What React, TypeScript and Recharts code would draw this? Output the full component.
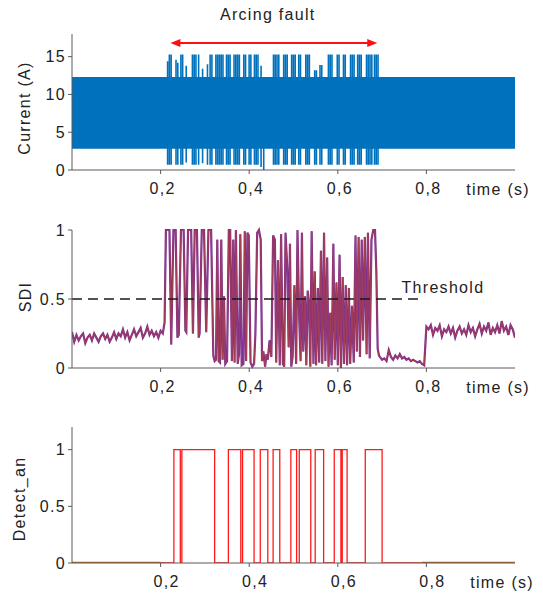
import React from 'react';
import { LineChart, Line, AreaChart, Area, XAxis, YAxis, ReferenceLine } from 'recharts';

// axis ticks
const timeTicks = [0.2, 0.4, 0.6, 0.8];
const currentTicks = [0, 5, 10, 15];
const unitTicks = [0, 0.5, 1];

// current waveform envelope (A)
const bandLow = 2.8;
const bandHigh = 12.3;
const spikeTimes = [
  0.214, 0.218, 0.222, 0.233, 0.237, 0.244, 0.248, 0.256, 0.270, 0.274,
  0.278, 0.284, 0.293, 0.304, 0.310, 0.314, 0.323, 0.327, 0.331, 0.335,
  0.339, 0.347, 0.351, 0.355, 0.364, 0.368, 0.372, 0.376, 0.386, 0.390,
  0.398, 0.402, 0.410, 0.414, 0.418, 0.425, 0.431, 0.453, 0.457, 0.461,
  0.465, 0.476, 0.480, 0.484, 0.494, 0.498, 0.502, 0.510, 0.514, 0.526,
  0.530, 0.534, 0.546, 0.550, 0.558, 0.562, 0.577, 0.581, 0.585, 0.597,
  0.601, 0.611, 0.615, 0.627, 0.631, 0.635, 0.643, 0.647, 0.651, 0.663,
  0.667, 0.671, 0.675, 0.681, 0.685, 0.689,
];
const spikeHigh = [
  14.4, 15.3, 15.3, 14.6, 14.2, 15.3, 15.3, 13.8, 15.3, 15.3,
  15.3, 15.3, 13.4, 14.0, 15.3, 15.3, 15.3, 15.3, 15.3, 15.3,
  15.3, 15.3, 15.3, 15.3, 15.3, 15.3, 15.3, 15.3, 15.3, 15.3,
  15.3, 15.3, 15.3, 15.3, 15.3, 13.8, 12.3, 15.3, 15.3, 15.3,
  15.3, 15.3, 15.3, 15.3, 15.3, 15.3, 15.3, 15.3, 15.3, 15.3,
  15.3, 15.3, 13.2, 13.2, 13.9, 13.9, 15.3, 15.3, 15.3, 15.3,
  15.3, 15.3, 15.3, 15.3, 15.3, 15.3, 15.3, 15.3, 15.3, 15.3,
  15.3, 15.3, 15.3, 15.3, 15.3, 15.3,
];
const spikeLow = [
  0.7, 0.7, 0.7, 0.7, 0.7, 0.7, 0.7, 1.0, 0.7, 0.7,
  0.7, 0.7, 0.9, 0.7, 0.7, 0.7, 0.7, 0.7, 0.7, 0.7,
  0.7, 0.7, 0.7, 0.7, 0.7, 0.7, 0.7, 0.7, 0.7, 0.7,
  0.7, 0.7, 0.7, 0.7, 0.7, 0.4, 0.0, 0.7, 0.7, 0.7,
  0.7, 0.7, 0.7, 0.7, 0.7, 0.7, 0.7, 0.7, 0.7, 0.7,
  0.7, 0.7, 0.7, 0.7, 0.7, 0.7, 0.7, 0.7, 0.7, 0.7,
  0.7, 0.7, 0.7, 0.7, 0.7, 0.7, 0.7, 0.7, 0.7, 0.7,
  0.7, 0.7, 0.7, 0.7, 0.7, 0.7,
];
const faultSpan = [0.222, 0.689];
const faultArrowLevel = 16.8;

// SDI, sampled every 5 ms outside the fault, read point by point inside it
const sdiPre = [
  0.26, 0.19, 0.24, 0.20, 0.23, 0.25, 0.18, 0.22, 0.24, 0.20,
  0.25, 0.22, 0.19, 0.23, 0.25, 0.21, 0.24, 0.19, 0.22, 0.26,
  0.21, 0.25, 0.23, 0.28, 0.22, 0.26, 0.20, 0.24, 0.28, 0.23,
  0.26, 0.29, 0.22, 0.25, 0.30, 0.24, 0.27, 0.23, 0.26, 0.22,
  0.27, 0.25,
];
const sdiFault = [
  [0.209, 0.33], [0.212, 1.0], [0.220, 1.0], [0.224, 0.17], [0.229, 1.0], [0.234, 1.0],
  [0.238, 0.22], [0.241, 0.24], [0.246, 1.0], [0.252, 1.0], [0.256, 0.27], [0.258, 0.26],
  [0.262, 1.0], [0.269, 1.0], [0.273, 0.25], [0.277, 1.0], [0.282, 1.0], [0.286, 0.22],
  [0.288, 0.25], [0.293, 1.0], [0.298, 1.0], [0.303, 0.26], [0.308, 1.0], [0.314, 1.0],
  [0.319, 0.09], [0.322, 0.05], [0.325, 0.06], [0.328, 0.93], [0.331, 0.05], [0.334, 0.04],
  [0.337, 0.93], [0.340, 0.06], [0.343, 0.52], [0.346, 0.03], [0.350, 0.05], [0.354, 1.0],
  [0.357, 1.0], [0.361, 0.05], [0.364, 0.93], [0.367, 0.04], [0.370, 1.0], [0.374, 0.03],
  [0.377, 0.10], [0.380, 0.97], [0.383, 0.02], [0.387, 0.03], [0.390, 0.99], [0.393, 0.05],
  [0.396, 0.98], [0.399, 0.96], [0.403, 0.04], [0.407, 0.01], [0.411, 0.03], [0.414, 0.25],
  [0.418, 0.98], [0.422, 1.0], [0.426, 0.93], [0.429, 0.05], [0.432, 0.12], [0.436, 0.01],
  [0.439, 0.10], [0.442, 0.06], [0.446, 0.20], [0.450, 0.08], [0.454, 0.96], [0.458, 0.93],
  [0.461, 0.04], [0.465, 0.78], [0.469, 0.02], [0.472, 0.97], [0.476, 0.03], [0.479, 0.01],
  [0.482, 0.98], [0.486, 0.72], [0.489, 0.15], [0.492, 0.90], [0.495, 0.01], [0.498, 0.08],
  [0.502, 0.60], [0.506, 0.03], [0.509, 1.0], [0.513, 0.35], [0.516, 0.05], [0.519, 0.98],
  [0.522, 0.12], [0.526, 0.52], [0.529, 0.02], [0.532, 0.56], [0.535, 0.48], [0.538, 0.01],
  [0.541, 0.99], [0.545, 0.03], [0.548, 0.70], [0.551, 0.02], [0.555, 0.58], [0.558, 0.04],
  [0.562, 0.85], [0.565, 0.03], [0.569, 0.98], [0.572, 0.05], [0.576, 0.80], [0.579, 0.01],
  [0.583, 0.40], [0.586, 0.02], [0.590, 0.90], [0.593, 0.06], [0.597, 0.62], [0.600, 0.02],
  [0.604, 0.82], [0.607, 0.0], [0.611, 0.66], [0.614, 0.03], [0.618, 0.60], [0.621, 0.02],
  [0.625, 0.58], [0.628, 0.03], [0.632, 0.45], [0.636, 0.04], [0.640, 0.96], [0.643, 0.12],
  [0.647, 0.95], [0.650, 0.08], [0.654, 0.93], [0.657, 0.20], [0.661, 0.95], [0.665, 0.10],
  [0.668, 0.98], [0.672, 0.07], [0.676, 0.93], [0.680, 1.0], [0.684, 1.0], [0.687, 0.70],
  [0.690, 0.14], [0.693, 0.09],
];
const sdiDecay = [
  0.08, 0.06, 0.07, 0.05, 0.13, 0.08, 0.06, 0.09, 0.07, 0.10,
  0.07, 0.08, 0.06, 0.07, 0.05, 0.06, 0.05, 0.04, 0.05, 0.03,
  0.02,
];
const sdiPost = [
  0.30, 0.28, 0.31, 0.24, 0.29, 0.27, 0.31, 0.23, 0.28, 0.26,
  0.30, 0.25, 0.29, 0.22, 0.27, 0.30, 0.25, 0.28, 0.24, 0.31,
  0.26, 0.29, 0.23, 0.28, 0.32, 0.25, 0.30, 0.27, 0.33, 0.24,
  0.29, 0.26, 0.31, 0.25, 0.34, 0.27, 0.30, 0.24, 0.31, 0.28,
  0.22,
];
const threshold = 0.5;
const thresholdEnd = 0.789;

// detection output (step changes)
const detectTimes = [
  0.200, 0.230, 0.2445, 0.248, 0.322, 0.353, 0.381, 0.385, 0.411, 0.425,
  0.442, 0.454, 0.469, 0.494, 0.507, 0.513, 0.539, 0.549, 0.568, 0.592,
  0.607, 0.610, 0.621, 0.662, 0.700, 0.790,
];
const detectValues = [
  0, 1, 0, 1, 0, 1, 0, 1, 0, 1,
  0, 1, 0, 1, 0, 1, 0, 1, 0, 1,
  0, 1, 0, 1, 0, 0,
];
const idleTimes = [0, 0.2, 0.5, 0.79, 1];
const idleValues = [0, 0, null, 0, 0];

const sampleStep = 0.005;
const spikeWidth = 0.0036;

const sampled = (start: number, values: number[]) =>
  values.map((v, i) => ({ t: +(start + i * sampleStep).toFixed(4), v }));

const currentData: { t: number; r: number[] }[] = [{ t: 0, r: [bandLow, bandHigh] }];
spikeTimes.forEach((t, i) => {
  currentData.push({ t, r: [spikeLow[i], spikeHigh[i]] });
  currentData.push({ t: t + spikeWidth, r: [bandLow, bandHigh] });
});
currentData.push({ t: 1, r: [bandLow, bandHigh] });

const sdiData = [
  ...sampled(0, sdiPre),
  ...sdiFault.map(([t, v]) => ({ t, v })),
  ...sampled(0.695, sdiDecay),
  ...sampled(0.8, sdiPost),
];

const detectData = detectTimes.map((t, i) => ({ t, v: detectValues[i] }));
const idleData = idleTimes.map((t, i) => ({ t, v: idleValues[i] }));

const AXIS = '#5a5a5a';
const INK = '#222';
const FONT = '"Liberation Sans", Arial, sans-serif';
const W = 543;

const fmtTime = (v: number) => v.toFixed(1).replace('.', ',');
const fmtUnit = (v: number) => (v === 0.5 ? '0.5' : String(v));

const yTitle = (text: string, x: number, shift: number) => (props: any) => {
  const { viewBox } = props;
  const cy = viewBox.y + viewBox.height / 2 + shift;
  return (
    <text x={x} y={cy} transform={`rotate(-90 ${x} ${cy})`} textAnchor="middle" fill={INK} fontSize={16}>
      {text}
    </text>
  );
};

const timeTitle = (shift: number) => (props: any) => {
  const { viewBox } = props;
  return (
    <text x={viewBox.x + viewBox.width + 15 + shift} y={viewBox.y + 24.7} textAnchor="end" fill={INK} fontSize={16}>
      time (s)
    </text>
  );
};

const FaultArrow = (props: any) => {
  const { x1, y1, x2 } = props;
  return (
    <g>
      <line x1={x1 + 8} y1={y1} x2={x2 - 8} y2={y1} stroke="#ff1010" strokeWidth={2} />
      <polygon points={`${x1},${y1} ${x1 + 10},${y1 - 4} ${x1 + 10},${y1 + 4}`} fill="#ff1010" />
      <polygon points={`${x2},${y1} ${x2 - 10},${y1 - 4} ${x2 - 10},${y1 + 4}`} fill="#ff1010" />
      <text x={(x1 + x2) / 2 - 6} y={y1 - 23.3} textAnchor="middle" fill={INK} fontSize={16}>
        Arcing  fault
      </text>
    </g>
  );
};

const ThresholdLine = (props: any) => {
  const { x1, y1, x2 } = props;
  return (
    <g>
      <line x1={x1} y1={y1} x2={x2} y2={y1} stroke="#1a1a1a" strokeWidth={1.7} strokeDasharray="10 6" />
      <text x={x2 - 20} y={y1 - 6.5} fill={INK} fontSize={16}>
        Threshold
      </text>
    </g>
  );
};

const frame = (labelShift: number, titleShift: number) => [
  <XAxis
    key="xb"
    dataKey="t"
    type="number"
    domain={[0, 1]}
    ticks={timeTicks}
    tickFormatter={fmtTime}
    height={30}
    tickSize={4}
    tickMargin={9}
    stroke={AXIS}
    tick={{ fill: INK, fontSize: 16, dx: labelShift }}
    label={timeTitle(titleShift)}
    allowDataOverflow
  />,
  <XAxis
    key="xt"
    xAxisId="top"
    dataKey="t"
    type="number"
    orientation="top"
    domain={[0, 1]}
    ticks={timeTicks}
    tickFormatter={() => ''}
    height={0}
    tickSize={-4}
    stroke={AXIS}
  />,
  <YAxis key="yr" yAxisId="right" orientation="right" width={0} tick={false} stroke={AXIS} />,
];

export default function App() {
  return (
    <div
      style={{
        position: 'absolute',
        left: 0,
        top: 0,
        width: W,
        height: 595,
        background: '#fff',
        fontFamily: FONT,
        letterSpacing: '1.3px',
      }}
    >
      <div style={{ position: 'absolute', left: 0, top: 0 }}>
        <AreaChart width={W} height={200} data={currentData} margin={{ top: 34, right: 28, bottom: 0, left: 0 }}>
          {frame(2, 0)}
          <YAxis
            domain={[0, 18]}
            ticks={currentTicks}
            width={72}
            tickSize={4}
            tickMargin={2}
            stroke={AXIS}
            tick={{ fill: INK, fontSize: 16 }}
            label={yTitle('Current (A)', 30, 6)}
          />
          <Area
            type="stepAfter"
            dataKey="r"
            stroke="none"
            fill="#0072BD"
            fillOpacity={1}
            isAnimationActive={false}
          />
          <ReferenceLine
            segment={[
              { x: faultSpan[0], y: faultArrowLevel },
              { x: faultSpan[1], y: faultArrowLevel },
            ]}
            shape={FaultArrow}
          />
        </AreaChart>
      </div>

      <div style={{ position: 'absolute', left: 0, top: 200 }}>
        <LineChart width={W} height={200} data={sdiData} margin={{ top: 30, right: 28, bottom: 2, left: 0 }}>
          {frame(2, 0)}
          <YAxis
            domain={[0, 1]}
            ticks={unitTicks}
            tickFormatter={fmtUnit}
            width={72}
            tickSize={4}
            tickMargin={2}
            stroke={AXIS}
            tick={{ fill: INK, fontSize: 16 }}
            label={yTitle('SDI', 31, -2)}
          />
          <Line type="linear" dataKey="v" stroke="#7E2F8E" strokeWidth={2.2} dot={false} isAnimationActive={false} />
          <Line type="linear" dataKey="v" stroke="#A8414F" strokeWidth={0.9} dot={false} isAnimationActive={false} />
          <ReferenceLine
            segment={[
              { x: 0, y: threshold },
              { x: thresholdEnd, y: threshold },
            ]}
            shape={ThresholdLine}
          />
        </LineChart>
      </div>

      <div style={{ position: 'absolute', left: 0, top: 400 }}>
        <LineChart width={W} height={195} margin={{ top: 27, right: 28, bottom: 2, left: 0 }}>
          {frame(6, 4)}
          <YAxis
            domain={[0, 1.2]}
            ticks={unitTicks}
            tickFormatter={fmtUnit}
            width={72}
            tickSize={4}
            tickMargin={2}
            stroke={AXIS}
            tick={{ fill: INK, fontSize: 16 }}
            label={yTitle('Detect_an', 25, 4)}
            allowDataOverflow
          />
          <Line
            data={idleData}
            type="linear"
            dataKey="v"
            stroke="#B8621B"
            strokeWidth={2.6}
            dot={false}
            connectNulls={false}
            isAnimationActive={false}
          />
          <Line
            data={detectData}
            type="stepAfter"
            dataKey="v"
            stroke="#FF1A1A"
            strokeWidth={1.3}
            dot={false}
            isAnimationActive={false}
          />
        </LineChart>
      </div>
    </div>
  );
}
